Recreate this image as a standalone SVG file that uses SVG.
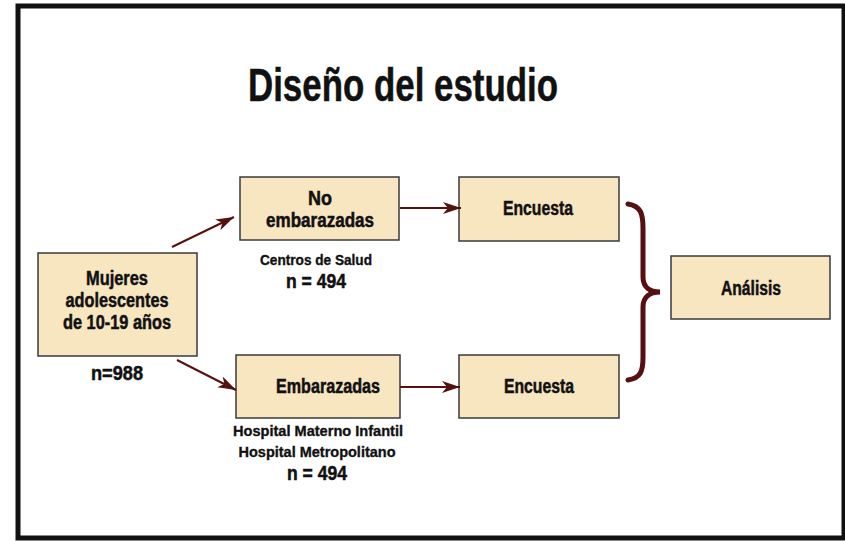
<svg xmlns="http://www.w3.org/2000/svg" width="845" height="541" viewBox="0 0 845 541">
<style>
.box{fill:#f7e6c0;stroke:#3a3a3a;stroke-width:1.5}
.t{font-family:"Liberation Sans Narrow","Liberation Sans",Arial,sans-serif;font-weight:bold;fill:#111;stroke:#111;stroke-width:0.5;text-anchor:middle}
.b{font-size:20px}
.s{font-size:15px;stroke-width:0.35}
.c{fill:none;stroke:#561010;stroke-width:2}
</style>
<defs>
<marker id="ah" markerUnits="userSpaceOnUse" markerWidth="20" markerHeight="14" refX="18" refY="6" orient="auto">
<path d="M0,0 L18,6 L0,12 L5,6 z" fill="#561010"/>
</marker>
</defs>
<rect x="18" y="6" width="826" height="532" fill="#fff" stroke="#111" stroke-width="5"/>
<text class="t" x="403" y="101" font-size="46" stroke-width="0.8" textLength="310" lengthAdjust="spacingAndGlyphs">Diseño del estudio</text>

<g id="mujeres">
<rect class="box" x="38" y="253" width="159" height="103"/>
<text class="t b" x="117" y="285" textLength="62" lengthAdjust="spacingAndGlyphs">Mujeres</text>
<text class="t b" x="117" y="307" textLength="103" lengthAdjust="spacingAndGlyphs">adolescentes</text>
<text class="t b" x="117" y="329" textLength="108" lengthAdjust="spacingAndGlyphs">de 10-19 años</text>
<text class="t b" x="117" y="380" textLength="52" lengthAdjust="spacingAndGlyphs">n=988</text>
</g>

<g id="no-embarazadas">
<rect class="box" x="240" y="177" width="159" height="63"/>
<text class="t b" x="320" y="205" textLength="24" lengthAdjust="spacingAndGlyphs">No</text>
<text class="t b" x="320" y="227" textLength="108" lengthAdjust="spacingAndGlyphs">embarazadas</text>
<text class="t s" x="316" y="265" textLength="112" lengthAdjust="spacingAndGlyphs">Centros de Salud</text>
<text class="t b" x="316" y="288" textLength="60" lengthAdjust="spacingAndGlyphs">n = 494</text>
</g>

<g id="embarazadas">
<rect class="box" x="236" y="355" width="164" height="63"/>
<text class="t b" x="328" y="393" textLength="104" lengthAdjust="spacingAndGlyphs">Embarazadas</text>
<text class="t s" x="318" y="436" textLength="170" lengthAdjust="spacingAndGlyphs">Hospital Materno Infantil</text>
<text class="t s" x="317" y="457" textLength="157" lengthAdjust="spacingAndGlyphs">Hospital Metropolitano</text>
<text class="t b" x="317" y="480" textLength="60" lengthAdjust="spacingAndGlyphs">n = 494</text>
</g>

<g id="encuesta-1">
<rect class="box" x="459" y="177" width="160" height="64"/>
<text class="t b" x="538" y="215" textLength="70" lengthAdjust="spacingAndGlyphs">Encuesta</text>
</g>

<g id="encuesta-2">
<rect class="box" x="459" y="355" width="160" height="63"/>
<text class="t b" x="539" y="393" textLength="70" lengthAdjust="spacingAndGlyphs">Encuesta</text>
</g>

<g id="analisis">
<rect class="box" x="671" y="256" width="159" height="63"/>
<text class="t b" x="751" y="295" textLength="60" lengthAdjust="spacingAndGlyphs">Análisis</text>
</g>

<g id="connectors">
<line class="c" x1="172" y1="247" x2="234" y2="217" marker-end="url(#ah)"/>
<line class="c" x1="177" y1="360" x2="236" y2="390" marker-end="url(#ah)"/>
<line class="c" x1="400" y1="208" x2="461" y2="208" marker-end="url(#ah)"/>
<line class="c" x1="400" y1="387" x2="460" y2="387" marker-end="url(#ah)"/>
<path d="M628,204 C641,206 643,214 643,228 L643,277 C643,287 650,292 660,292 C650,292 643,297 643,307 L643,357 C643,371 641,378 628,380" fill="none" stroke="#561010" stroke-width="5" stroke-linecap="round"/>
</g>
</svg>
